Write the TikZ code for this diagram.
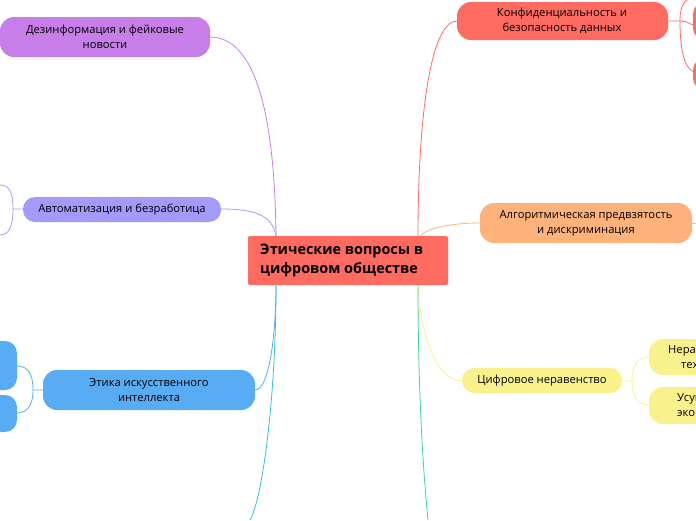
\documentclass[tikz,border=0pt]{standalone}
\usepackage{fontspec}
\setmainfont{Open Sans}
\begin{document}
\begin{tikzpicture}[x=1pt,y=-1pt,
 topic/.style={align=center,font=\fontsize{11.2}{15}\selectfont,inner sep=0pt},
 conn/.style={line width=0.8pt}]
\useasboundingbox (0,0) rectangle (696,520);
\definecolor{cpur}{HTML}{C77EE8}\definecolor{cvio}{HTML}{A29BFC}
\definecolor{cblu}{HTML}{58ACF4}\definecolor{cred}{HTML}{FF6B60}
\definecolor{cora}{HTML}{FFB37B}\definecolor{cyel}{HTML}{F8F18C}
\definecolor{ccya}{HTML}{2EC4D8}\definecolor{cgrn}{HTML}{3ED6A0}
\begin{scope}
\clip (0,0) rectangle (696,520);
% connectors
\draw[conn,cpur] (210,37) .. controls (265,37) and (275,150) .. (276,236);
\draw[conn,cvio] (221,209) .. controls (255,209) and (272,215) .. (276,236);
\draw[conn,cblu] (255,390) .. controls (270,390) and (276,330) .. (276,285);
\draw[conn,ccya] (276,285) .. controls (276,400) and (262,500) .. (250,520);
\draw[conn,cred] (457,21) .. controls (430,21) and (418,120) .. (418,236);
\draw[conn,cora] (480,223) .. controls (445,223) and (420,230) .. (418,240);
\draw[conn,cyel] (462,381) .. controls (435,381) and (420,330) .. (418,285);
\draw[conn,cgrn] (418,285) .. controls (418,400) and (424,480) .. (428,520);
% sub brackets
\draw[conn,cvio] (23,209) -- (13,209) .. controls (13,190) and (8,185) .. (0,185);
\draw[conn,cvio] (13,209) .. controls (13,228) and (8,235) .. (0,235);
\draw[conn,cblu] (43,390) -- (33,390) .. controls (33,370) and (25,366) .. (17,366);
\draw[conn,cblu] (33,390) .. controls (33,408) and (25,413) .. (17,413);
\draw[conn,cred] (668,21) -- (680,21) .. controls (690,21) and (688,25) .. (696,25);
\draw[conn,cred] (680,21) .. controls (680,0) and (688,-2) .. (696,-2);
\draw[conn,cred] (680,21) .. controls (680,60) and (688,72) .. (696,72);
\draw[conn,cora] (692,223) -- (696,223);
\draw[conn,cyel] (622,381) -- (632,381) .. controls (632,362) and (640,357) .. (649,357);
\draw[conn,cyel] (632,381) .. controls (632,400) and (640,405) .. (649,405);
% children off-edge
\fill[cblu,rounded corners=12pt] (-30,341) rectangle (17,390);
\fill[cblu,rounded corners=12pt] (-30,395) rectangle (17,432);
\fill[cred,rounded corners=12pt] (693,2) rectangle (740,40);
\fill[cred,rounded corners=12pt] (693,58) rectangle (740,90);
\fill[cyel,rounded corners=14pt] (649,339) rectangle (760,375);
\fill[cyel,rounded corners=14pt] (649,387) rectangle (760,424);
\node[anchor=west,align=left,font=\fontsize{11.2}{15}\selectfont,inner sep=0pt] (c1) at (668,357) {Неравный\\\hspace*{13pt}технологии};
\node[anchor=west,align=left,font=\fontsize{11.2}{15}\selectfont,inner sep=0pt] (c2) at (677,405) {Усугубление\\эконом};
% main topics
\fill[cpur,rounded corners=14pt] (0,17) rectangle (210,57);
\node[topic] (t1) at (105,37) {Дезинформация и фейковые\\новости};
\fill[cvio,rounded corners=12pt] (23,197) rectangle (221,222);
\node[topic] (t2) at (122,210) {Автоматизация и безработица};
\fill[cblu,rounded corners=14pt] (43,370) rectangle (255,410);
\node[topic] (t3) at (149,390) {Этика искусственного\\интеллекта};
\fill[cred,rounded corners=14pt] (457,2) rectangle (668,40);
\node[topic] (t4) at (562,21) {Конфиденциальность и\\безопасность данных};
\fill[cora,rounded corners=14pt] (480,203) rectangle (692,243);
\node[topic] (t5) at (586,223) {Алгоритмическая предвзятость\\и дискриминация};
\fill[cyel,rounded corners=12pt] (462,368) rectangle (622,393);
\node[topic] (t6) at (542,381) {Цифровое неравенство};
% center
\fill[cred,rounded corners=2pt] (248,236) rectangle (448,285);
\node[anchor=west,align=left,font=\bfseries\fontsize{14.4}{19}\selectfont,inner sep=0pt] (c) at (260,261) {Этические вопросы в\\цифровом обществе};
\end{scope}
\end{tikzpicture}
\end{document}
